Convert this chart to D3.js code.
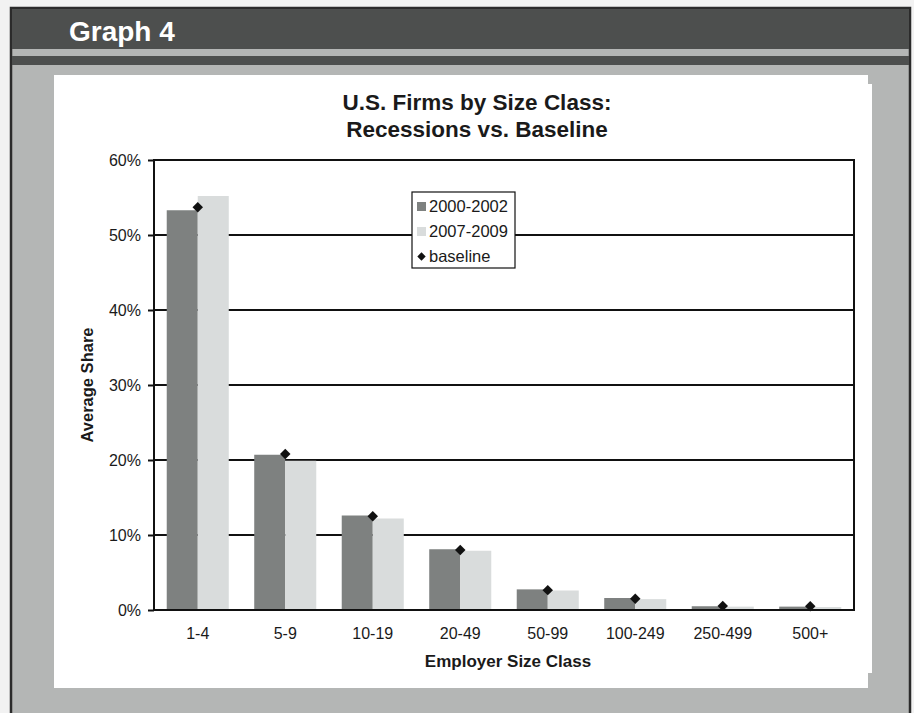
<!DOCTYPE html>
<html>
<head>
<meta charset="utf-8">
<script src="https://cdn.jsdelivr.net/npm/d3@7/dist/d3.min.js"></script>
<style>
  html, body { margin: 0; padding: 0; background: #f2f2f2; }
  svg { display: block; }
  text { font-family: "Liberation Sans", Arial, Helvetica, sans-serif; fill: #1a1a1a; }
</style>
</head>
<body>
<svg id="chart" width="914" height="713"></svg>
<script>
// Employer size classes on the x axis
const categories = ["1-4", "5-9", "10-19", "20-49", "50-99", "100-249", "250-499", "500+"];
// Average share of firms (%) in each size class
const recession2000 = [53.3, 20.7, 12.6, 8.1, 2.75, 1.6, 0.5, 0.45];
const recession2007 = [55.2, 19.9, 12.2, 7.9, 2.6, 1.45, 0.45, 0.4];
const baseline = [53.7, 20.8, 12.5, 8.0, 2.65, 1.5, 0.55, 0.5];
const seriesNames = ["2000-2002", "2007-2009"];
const yTicks = [0, 10, 20, 30, 40, 50, 60];
const barColors = { "2000-2002": "#7e8180", "2007-2009": "#d9dcdc" };

const svg = d3.select("#chart");

// ---- slide frame ----
svg.append("rect").attr("x", 0).attr("y", 0).attr("width", 914).attr("height", 713).attr("fill", "#f2f2f2");
svg.append("rect").attr("x", 11).attr("y", 8).attr("width", 899).attr("height", 720)
  .attr("fill", "#b4b6b5").attr("stroke", "#2b2b2b").attr("stroke-width", 2.5);
svg.append("rect").attr("x", 12).attr("y", 9).attr("width", 897).attr("height", 40).attr("fill", "#4d4f4e");
svg.append("rect").attr("x", 12).attr("y", 56).attr("width", 897).attr("height", 9).attr("fill", "#4d4f4e");
svg.append("text").attr("x", 69).attr("y", 41)
  .style("font-size", "28px").style("font-weight", "bold").style("fill", "#ffffff")
  .text("Graph 4");

// white chart panel
svg.append("path")
  .attr("d", "M54,75 H868 V84 H872 V673 H868 V688 H54 Z")
  .attr("fill", "#ffffff");

// ---- chart ----
const plot = { left: 154, right: 854, top: 160, bottom: 610 };

const x = d3.scaleBand().domain(categories)
  .range([plot.left, plot.right]).paddingInner(0.291).paddingOuter(0.1455);
const xs = d3.scaleBand().domain(seriesNames).range([0, x.bandwidth()]);
const y = d3.scaleLinear().domain([0, 60]).range([plot.bottom, plot.top]);

// gridlines
svg.append("g").selectAll("line").data(yTicks.filter(t => t > 0 && t < 60)).join("line")
  .attr("x1", plot.left).attr("x2", plot.right)
  .attr("y1", d => y(d)).attr("y2", d => y(d))
  .attr("stroke", "#111").attr("stroke-width", 2);

// bars
const rows = categories.map((c, i) => ({ cat: c, values: [recession2000[i], recession2007[i]], base: baseline[i] }));
const groups = svg.append("g").selectAll("g").data(rows).join("g")
  .attr("transform", d => `translate(${x(d.cat)},0)`);
groups.selectAll("rect").data(d => d.values.map((v, j) => ({ name: seriesNames[j], v })))
  .join("rect")
  .attr("x", d => xs(d.name)).attr("width", xs.bandwidth())
  .attr("y", d => y(d.v)).attr("height", d => y(0) - y(d.v))
  .attr("fill", d => barColors[d.name]);

// baseline markers (diamonds at the category centre)
const diamond = d3.symbol().type(d3.symbolDiamond2).size(70);
svg.append("g").selectAll("path").data(rows).join("path")
  .attr("d", diamond)
  .attr("transform", d => `translate(${x(d.cat) + x.bandwidth() / 2},${y(d.base)})`)
  .attr("fill", "#111");

// plot border
svg.append("rect").attr("x", plot.left).attr("y", plot.top)
  .attr("width", plot.right - plot.left).attr("height", plot.bottom - plot.top)
  .attr("fill", "none").attr("stroke", "#111").attr("stroke-width", 2);

// y axis
const yAxis = d3.axisLeft(y).tickValues(yTicks).tickFormat(d => d + "%").tickSize(6).tickPadding(7);
const yg = svg.append("g").attr("transform", `translate(${plot.left},0)`).call(yAxis);
yg.select(".domain").remove();
yg.selectAll(".tick line").attr("stroke", "#111").attr("stroke-width", 2);
yg.selectAll(".tick text").style("font-size", "16px").style("font-family", "Liberation Sans, Arial, sans-serif").attr("fill", "#1a1a1a");

// x axis
const xAxis = d3.axisBottom(x).tickSize(0).tickPadding(18);
const xg = svg.append("g").attr("transform", `translate(0,${plot.bottom})`).call(xAxis);
xg.select(".domain").remove();
xg.selectAll(".tick text").style("font-size", "16px").style("font-family", "Liberation Sans, Arial, sans-serif").attr("fill", "#1a1a1a");

// titles
const title = svg.append("text").attr("text-anchor", "middle")
  .style("font-size", "22.5px").style("font-weight", "bold");
title.append("tspan").attr("x", 477).attr("y", 110).text("U.S. Firms by Size Class:");
title.append("tspan").attr("x", 477).attr("y", 137).text("Recessions vs. Baseline");

svg.append("text").attr("x", 508).attr("y", 667)
  .attr("text-anchor", "middle").style("font-size", "17px").style("font-weight", "bold")
  .text("Employer Size Class");

svg.append("text").attr("transform", `translate(93,${(plot.top + plot.bottom) / 2}) rotate(-90)`)
  .attr("text-anchor", "middle").style("font-size", "16.5px").style("font-weight", "bold")
  .text("Average Share");

// legend
const legend = svg.append("g");
legend.append("rect").attr("x", 412).attr("y", 192).attr("width", 103).attr("height", 76)
  .attr("fill", "#fff").attr("stroke", "#111").attr("stroke-width", 1.2);
const legendItems = [
  { label: "2000-2002", kind: "bar", color: barColors["2000-2002"] },
  { label: "2007-2009", kind: "bar", color: barColors["2007-2009"] },
  { label: "baseline", kind: "marker", color: "#111" }
];
const ly = d3.scalePoint().domain(legendItems.map(d => d.label)).range([206.5, 256.5]);
legendItems.forEach(d => {
  const cy = ly(d.label);
  if (d.kind === "bar") {
    legend.append("rect").attr("x", 417).attr("y", cy - 4.5).attr("width", 9).attr("height", 9).attr("fill", d.color);
  } else {
    legend.append("path").attr("d", d3.symbol().type(d3.symbolDiamond2).size(45))
      .attr("transform", `translate(421.5,${cy})`).attr("fill", d.color);
  }
  legend.append("text").attr("x", 429).attr("y", cy).attr("dy", "0.35em")
    .style("font-size", "16.5px").text(d.label);
});
</script>
</body>
</html>
